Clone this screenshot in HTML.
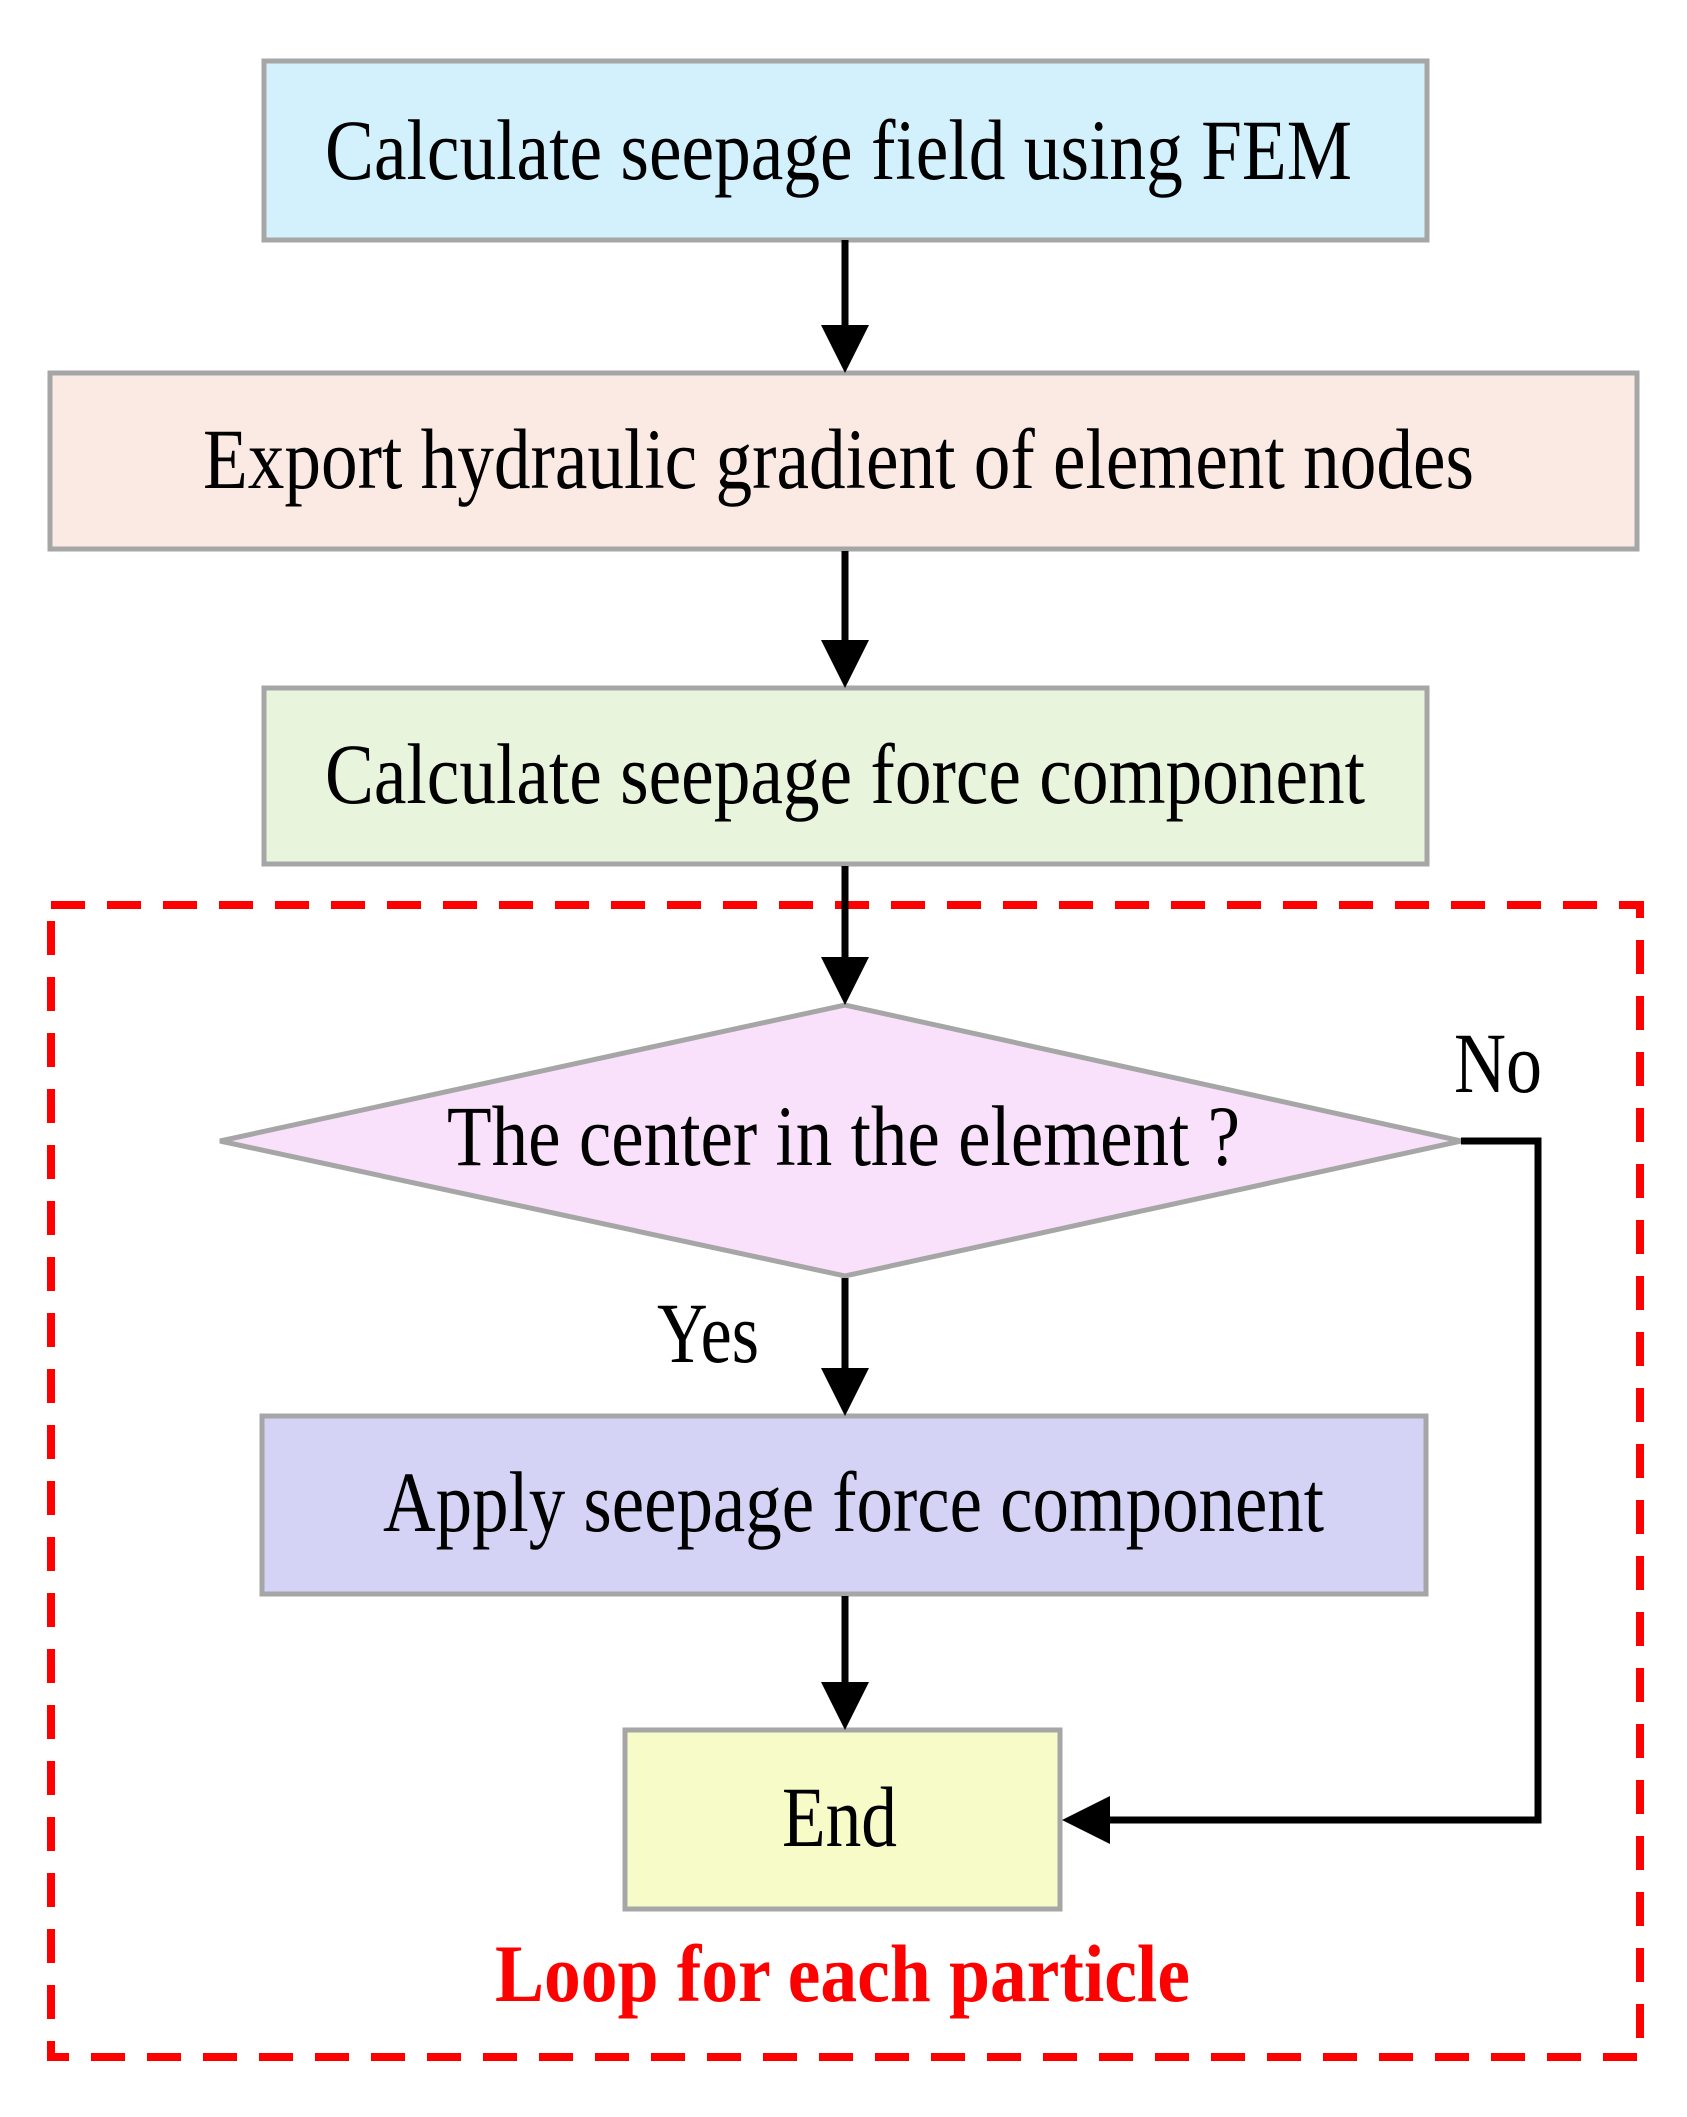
<!DOCTYPE html>
<html><head><meta charset="utf-8"><style>html,body{margin:0;padding:0;background:#fff}svg{display:block}</style></head>
<body>
<svg width="1687" height="2117" viewBox="0 0 1687 2117" xmlns="http://www.w3.org/2000/svg" font-family="Liberation Serif, serif">
<rect x="51" y="905" width="1589" height="1152" fill="none" stroke="#f00" stroke-width="8" stroke-dasharray="34,22"/>
<rect x="264" y="61" width="1163" height="179" fill="#d3f1fc" stroke="#a6a6a6" stroke-width="5"/>
<rect x="50" y="373" width="1587" height="176" fill="#fbe9e3" stroke="#a6a6a6" stroke-width="5"/>
<rect x="264" y="688" width="1163" height="176" fill="#e9f4dd" stroke="#a6a6a6" stroke-width="5"/>
<polygon points="220,1141 845,1005 1461,1141 845,1276" fill="#f9e1fb" stroke="#a6a6a6" stroke-width="5"/>
<rect x="262" y="1416" width="1164" height="178" fill="#d4d3f5" stroke="#a6a6a6" stroke-width="5"/>
<rect x="625" y="1730" width="435" height="179" fill="#f6fbc8" stroke="#a6a6a6" stroke-width="5"/>
<g stroke="#000" stroke-width="7" fill="none">
<line x1="845" y1="240" x2="845" y2="330"/>
<line x1="845" y1="551" x2="845" y2="645"/>
<line x1="845" y1="866" x2="845" y2="962"/>
<line x1="845" y1="1278" x2="845" y2="1373"/>
<line x1="845" y1="1596" x2="845" y2="1687"/>
<polyline points="1461,1141 1538,1141 1538,1820 1105,1820"/>
</g>
<g fill="#000">
<polygon points="821,325 869,325 845,373"/>
<polygon points="821,640 869,640 845,688"/>
<polygon points="821,957 869,957 845,1005"/>
<polygon points="821,1368 869,1368 845,1416"/>
<polygon points="821,1682 869,1682 845,1730"/>
<polygon points="1110,1796 1110,1844 1062,1820"/>
</g>
<g font-size="86" fill="#000">
<text x="325" y="179" textLength="1027" lengthAdjust="spacingAndGlyphs">Calculate seepage field using FEM</text>
<text x="203" y="488" textLength="1271" lengthAdjust="spacingAndGlyphs">Export hydraulic gradient of element nodes</text>
<text x="325" y="803" textLength="1040" lengthAdjust="spacingAndGlyphs">Calculate seepage force component</text>
<text x="447" y="1165" textLength="793" lengthAdjust="spacingAndGlyphs">The center in the element ?</text>
<text x="383" y="1531" textLength="941" lengthAdjust="spacingAndGlyphs">Apply seepage force component</text>
<text x="782" y="1846" textLength="115" lengthAdjust="spacingAndGlyphs">End</text>
<text x="657" y="1362" textLength="102" lengthAdjust="spacingAndGlyphs">Yes</text>
<text x="1454" y="1092" textLength="88" lengthAdjust="spacingAndGlyphs">No</text>
</g>
<text x="495" y="2001" font-size="82" font-weight="bold" fill="#f00" textLength="695" lengthAdjust="spacingAndGlyphs">Loop for each particle</text>
</svg>
</body></html>
